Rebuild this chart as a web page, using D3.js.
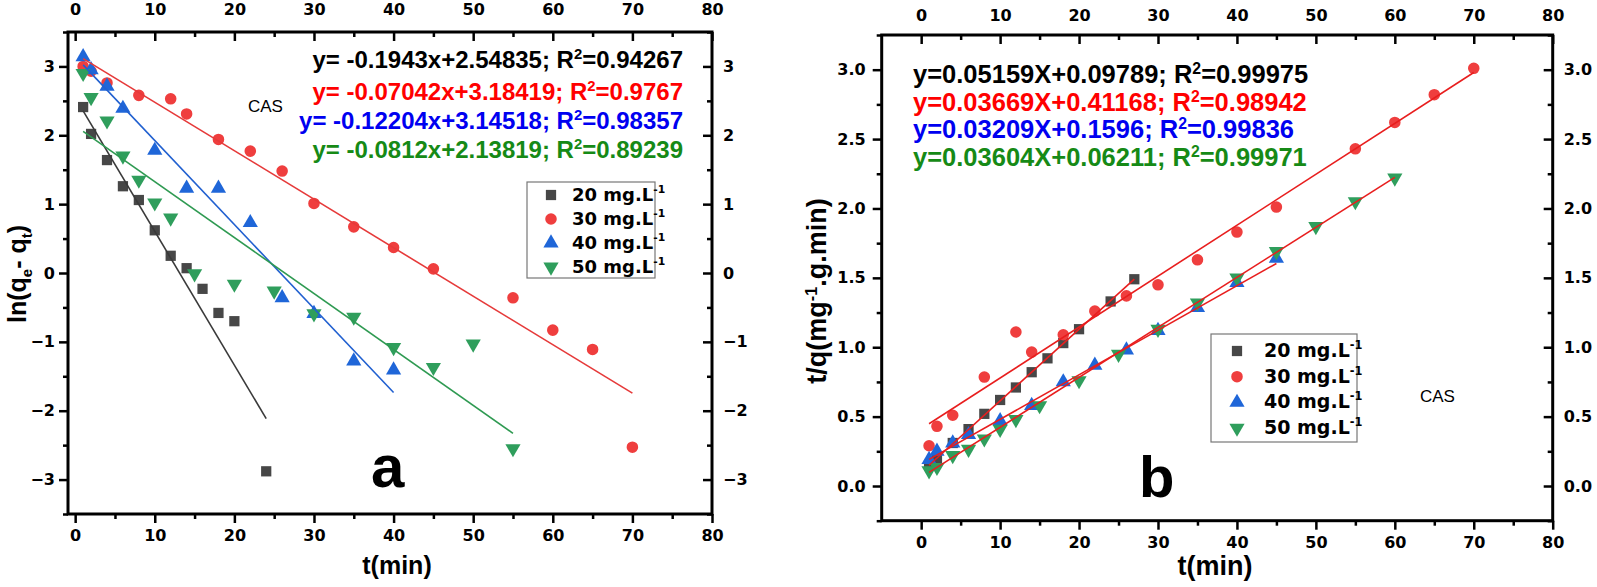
<!DOCTYPE html>
<html><head><meta charset="utf-8">
<script src="https://cdn.jsdelivr.net/npm/d3@7/dist/d3.min.js"></script>
<style>body{margin:0;background:#fff}</style>
</head><body><svg id="c" width="1597" height="587" xmlns="http://www.w3.org/2000/svg"></svg>
<script>
// ---------- data ----------
const concLabels = ["20 mg.L", "30 mg.L", "40 mg.L", "50 mg.L"];
const xTicks = [0, 10, 20, 30, 40, 50, 60, 70, 80];
const xMinor = [5, 15, 25, 35, 45, 55, 65, 75];
const yTicksA = [-3, -2, -1, 0, 1, 2, 3];
const yMinorA = [-3.5, -2.5, -1.5, -0.5, 0.5, 1.5, 2.5, 3.5];
const yTicksB = [0, 0.5, 1.0, 1.5, 2.0, 2.5, 3.0];
const yMinorB = [-0.25, 0.25, 0.75, 1.25, 1.75, 2.25, 2.75, 3.25];

// panel a : ln(qe - qt) vs t
const tA20 = [1, 2, 4, 6, 8, 10, 12, 14, 16, 18, 20, 24];
const vA20 = [2.41, 2.02, 1.64, 1.26, 1.06, 0.62, 0.25, 0.07, -0.23, -0.58, -0.70, -2.88];
const tA30 = [1, 2, 4, 8, 12, 14, 18, 22, 26, 30, 35, 40, 45, 55, 60, 65, 70];
const vA30 = [3.00, 2.93, 2.76, 2.58, 2.53, 2.31, 1.94, 1.77, 1.48, 1.01, 0.67, 0.37, 0.06, -0.36, -0.83, -1.11, -2.53];
const tA40 = [1, 2, 4, 6, 10, 14, 18, 22, 26, 30, 35, 40];
const vA40 = [3.14, 2.95, 2.71, 2.39, 1.78, 1.23, 1.23, 0.73, -0.36, -0.59, -1.28, -1.41];
const tA50 = [1, 2, 4, 6, 8, 10, 12, 15, 20, 25, 30, 35, 40, 45, 50, 55];
const vA50 = [2.90, 2.55, 2.21, 1.70, 1.35, 1.02, 0.80, -0.01, -0.16, -0.26, -0.59, -0.64, -1.08, -1.37, -1.03, -2.55];
const fitSlopeA = [-0.1943, -0.07042, -0.12204, -0.0812];
const fitInterA = [2.54835, 3.18419, 3.14518, 2.13819];
const fitStartA = [1, 1, 1, 1];
const fitEndA = [24, 70, 40, 55];
const eqMainA = ["y= -0.1943x+2.54835; R", "y= -0.07042x+3.18419; R", "y= -0.12204x+3.14518; R", "y= -0.0812x+2.13819; R"];
const eqR2A = ["=0.94267", "=0.9767", "=0.98357", "=0.89239"];

// panel b : t/q vs t
const tB20 = [1, 2, 4, 6, 8, 10, 12, 14, 16, 18, 20, 24, 27];
const vB20 = [0.15, 0.19, 0.31, 0.41, 0.52, 0.62, 0.71, 0.82, 0.92, 1.03, 1.13, 1.33, 1.49];
const tB30 = [1, 2, 4, 8, 12, 14, 18, 22, 26, 30, 35, 40, 45, 55, 60, 65, 70];
const vB30 = [0.29, 0.43, 0.51, 0.785, 1.11, 0.965, 1.09, 1.26, 1.37, 1.45, 1.63, 1.83, 2.01, 2.43, 2.62, 2.82, 3.01];
const tB40 = [1, 2, 4, 6, 10, 14, 18, 22, 26, 30, 35, 40, 45];
const vB40 = [0.19, 0.25, 0.31, 0.37, 0.47, 0.58, 0.75, 0.87, 0.98, 1.12, 1.285, 1.465, 1.64];
const tB50 = [1, 2, 4, 6, 8, 10, 12, 15, 20, 25, 30, 35, 40, 45, 50, 55, 60];
const vB50 = [0.11, 0.135, 0.22, 0.265, 0.34, 0.41, 0.48, 0.58, 0.76, 0.95, 1.13, 1.32, 1.50, 1.69, 1.87, 2.05, 2.22];
const fitSlopeB = [0.05159, 0.03669, 0.03209, 0.03604];
const fitInterB = [0.09789, 0.41168, 0.1596, 0.06211];
const fitStartB = [1, 1, 1, 1];
const fitEndB = [27, 70, 45, 60];
const eqMainB = ["y=0.05159X+0.09789; R", "y=0.03669X+0.41168; R", "y=0.03209X+0.1596; R", "y=0.03604X+0.06211; R"];
const eqR2B = ["=0.99975", "=0.98942", "=0.99836", "=0.99971"];

// ---------- styles ----------
const markerColors = ["#474747", "#ef3e3e", "#1f66d8", "#2f9e5c"];
const symbols = [d3.symbolSquare, d3.symbolCircle, d3.symbolTriangle, d3.symbolTriangle];
const symbolSizes = [105, 105, 100, 100];
const symbolRot = [0, 0, 0, 180];
const lineColorsA = ["#3a3a3a", "#e63a3a", "#2160d0", "#2f9a52"];
const lineColorsB = ["#e81e1e", "#e81e1e", "#e81e1e", "#e81e1e"];
const eqColors = ["#000000", "#ff0000", "#0000f0", "#168a16"];
const TICKFONT = "'DejaVu Sans', sans-serif";
const ARIAL = "'Liberation Sans', Arial, sans-serif";

const svg = d3.select("#c");

function styleAxis(sel, size) {
  sel.select(".domain").remove();
  sel.selectAll(".tick line").attr("stroke", "#000").attr("stroke-width", 2.5);
  sel.selectAll(".tick text").attr("fill", "#000").attr("font-family", TICKFONT)
    .attr("font-weight", "bold").attr("font-size", size);
}

function drawPanel(cfg) {
  const g = svg.append("g");
  const x = d3.scaleLinear().domain(cfg.xd).range([cfg.l, cfg.r]);
  const y = d3.scaleLinear().domain(cfg.yd).range([cfg.b, cfg.t]);
  const MJ = 9, MN = 5, FS = 16;

  // bottom (outward)
  g.append("g").attr("transform", `translate(0,${cfg.b})`)
    .call(d3.axisBottom(x).tickValues(xTicks).tickSize(MJ).tickPadding(7).tickFormat(d3.format("d"))).call(s => styleAxis(s, FS));
  g.append("g").attr("transform", `translate(0,${cfg.b})`)
    .call(d3.axisBottom(x).tickValues(xMinor).tickSize(MN).tickFormat("")).call(s => styleAxis(s, FS));
  // top (inward)
  g.append("g").attr("transform", `translate(0,${cfg.t})`)
    .call(d3.axisTop(x).tickValues(xTicks).tickSizeInner(-MJ).tickSizeOuter(0).tickPadding(cfg.topPad).tickFormat(d3.format("d"))).call(s => styleAxis(s, FS));
  g.append("g").attr("transform", `translate(0,${cfg.t})`)
    .call(d3.axisTop(x).tickValues(xMinor).tickSizeInner(-MN).tickSizeOuter(0).tickFormat("")).call(s => styleAxis(s, FS));
  // left (outward)
  g.append("g").attr("transform", `translate(${cfg.l},0)`)
    .call(d3.axisLeft(y).tickValues(cfg.yTicks).tickSize(MJ).tickPadding(cfg.leftPad).tickFormat(cfg.yFmt)).call(s => styleAxis(s, FS));
  g.append("g").attr("transform", `translate(${cfg.l},0)`)
    .call(d3.axisLeft(y).tickValues(cfg.yMinor).tickSize(MN).tickFormat("")).call(s => styleAxis(s, FS));
  // right (inward)
  g.append("g").attr("transform", `translate(${cfg.r},0)`)
    .call(d3.axisRight(y).tickValues(cfg.yTicks).tickSizeInner(-MJ).tickSizeOuter(0).tickPadding(11).tickFormat(cfg.yFmt)).call(s => styleAxis(s, FS));
  g.append("g").attr("transform", `translate(${cfg.r},0)`)
    .call(d3.axisRight(y).tickValues(cfg.yMinor).tickSizeInner(-MN).tickSizeOuter(0).tickFormat("")).call(s => styleAxis(s, FS));

  // frame
  g.append("rect").attr("x", cfg.l).attr("y", cfg.t).attr("width", cfg.r - cfg.l).attr("height", cfg.b - cfg.t)
    .attr("fill", "none").attr("stroke", "#000").attr("stroke-width", 3);

  // markers
  cfg.series.forEach((s, i) => {
    const sym = d3.symbol().type(symbols[i]).size(symbolSizes[i]);
    g.append("g").selectAll("path").data(s.t.map((t, k) => [t, s.v[k]])).join("path")
      .attr("d", sym)
      .attr("transform", d => `translate(${x(d[0])},${y(d[1])}) rotate(${symbolRot[i]})`)
      .attr("fill", markerColors[i]);
  });
  // fit lines
  const line = d3.line().x(d => x(d[0])).y(d => y(d[1]));
  cfg.fits.slope.forEach((m, i) => {
    const c = cfg.fits.inter[i];
    const pts = [cfg.fits.start[i], cfg.fits.end[i]].map(t => [t, m * t + c]);
    g.append("path").attr("d", line(pts)).attr("fill", "none")
      .attr("stroke", cfg.lineColors[i]).attr("stroke-width", 1.6);
  });

  // equations
  cfg.eqMain.forEach((txt, i) => {
    const t = g.append("text").attr("x", cfg.eqX).attr("y", cfg.eqY[i])
      .attr("text-anchor", cfg.eqAnchor).attr("font-family", ARIAL).attr("font-weight", "bold")
      .attr("font-size", cfg.eqSize).attr("fill", eqColors[i]);
    t.append("tspan").text(txt);
    t.append("tspan").attr("dy", -9).attr("font-size", cfg.eqSize * 0.62).text("2");
    t.append("tspan").attr("dy", 9).text(cfg.eqR2[i]);
  });

  // legend
  const L = cfg.legend;
  g.append("rect").attr("x", L.x).attr("y", L.y).attr("width", L.w).attr("height", L.h)
    .attr("fill", "#fff").attr("stroke", "#777").attr("stroke-width", 1.2);
  concLabels.forEach((lab, i) => {
    const cy = L.y + L.first + i * L.step;
    const sym = d3.symbol().type(symbols[i]).size(symbolSizes[i]);
    g.append("path").attr("d", sym).attr("transform", `translate(${L.x + L.symX},${cy}) rotate(${symbolRot[i]})`)
      .attr("fill", markerColors[i]);
    const t = g.append("text").attr("x", L.x + L.textX).attr("y", cy + 6)
      .attr("font-family", TICKFONT).attr("font-weight", "bold").attr("font-size", L.fs).attr("fill", "#000");
    t.append("tspan").text(lab);
    t.append("tspan").attr("dy", -8).attr("font-size", L.fs * 0.6).text("-1");
  });

  // CAS
  g.append("text").attr("x", cfg.cas[0]).attr("y", cfg.cas[1]).attr("font-family", ARIAL)
    .attr("font-size", 17).attr("fill", "#000").text("CAS");
  // panel letter
  g.append("text").attr("x", cfg.letterPos[0]).attr("y", cfg.letterPos[1]).attr("font-family", ARIAL)
    .attr("font-weight", "bold").attr("font-size", cfg.letterSize).attr("fill", "#000").text(cfg.letter);

  // x title
  g.append("text").attr("x", cfg.xTitlePos[0]).attr("y", cfg.xTitlePos[1]).attr("text-anchor", "middle")
    .attr("font-family", ARIAL).attr("font-weight", "bold").attr("font-size", cfg.titleSize).text("t(min)");
  // y title
  const yt = g.append("text").attr("transform", `translate(${cfg.yTitlePos[0]},${cfg.yTitlePos[1]}) rotate(-90)`)
    .attr("text-anchor", "middle").attr("font-family", ARIAL).attr("font-weight", "bold")
    .attr("font-size", cfg.titleSize).attr("fill", "#000");
  cfg.yTitle(yt, cfg.titleSize);
}

drawPanel({
  l: 68, r: 712, t: 32, b: 514, xd: [-0.9, 80], yd: [-3.5, 3.5],
  yTicks: yTicksA, yMinor: yMinorA, yFmt: d3.format("d"), topPad: 17, leftPad: 4,
  series: [{t: tA20, v: vA20}, {t: tA30, v: vA30}, {t: tA40, v: vA40}, {t: tA50, v: vA50}],
  fits: {slope: fitSlopeA, inter: fitInterA, start: fitStartA, end: fitEndA},
  lineColors: lineColorsA,
  eqMain: eqMainA, eqR2: eqR2A, eqX: 683, eqY: [68, 100, 129, 158], eqAnchor: "end", eqSize: 24,
  legend: {x: 527, y: 182, w: 128, h: 96, first: 13, step: 24, symX: 24, textX: 45, fs: 18},
  cas: [248, 112], letter: "a", letterPos: [371, 487], letterSize: 60,
  xTitlePos: [397, 574], titleSize: 25,
  yTitlePos: [26, 274],
  yTitle: (t, fs) => {
    t.append("tspan").text("ln(q");
    t.append("tspan").attr("dy", 6).attr("font-size", fs * 0.6).text("e");
    t.append("tspan").attr("dy", -6).text("- q");
    t.append("tspan").attr("dy", 6).attr("font-size", fs * 0.6).text("t");
    t.append("tspan").attr("dy", -6).text(")");
  }
});

drawPanel({
  l: 881.7, r: 1552.7, t: 35, b: 520.7, xd: [-5, 80], yd: [-0.25, 3.25],
  yTicks: yTicksB, yMinor: yMinorB, yFmt: d3.format(".1f"), topPad: 14, leftPad: 7,
  series: [{t: tB20, v: vB20}, {t: tB30, v: vB30}, {t: tB40, v: vB40}, {t: tB50, v: vB50}],
  fits: {slope: fitSlopeB, inter: fitInterB, start: fitStartB, end: fitEndB},
  lineColors: lineColorsB,
  eqMain: eqMainB, eqR2: eqR2B, eqX: 913, eqY: [83, 111, 138, 166], eqAnchor: "start", eqSize: 25.5,
  legend: {x: 1211, y: 334, w: 146, h: 108, first: 17, step: 25.7, symX: 26, textX: 53, fs: 19},
  cas: [1420, 402], letter: "b", letterPos: [1139, 497], letterSize: 58,
  xTitlePos: [1215, 575], titleSize: 27,
  yTitlePos: [826, 291],
  yTitle: (t, fs) => {
    t.append("tspan").text("t/q(mg");
    t.append("tspan").attr("dy", -9).attr("font-size", fs * 0.6).text("-1");
    t.append("tspan").attr("dy", 9).text(".g.min)");
  }
});
</script></body></html>
